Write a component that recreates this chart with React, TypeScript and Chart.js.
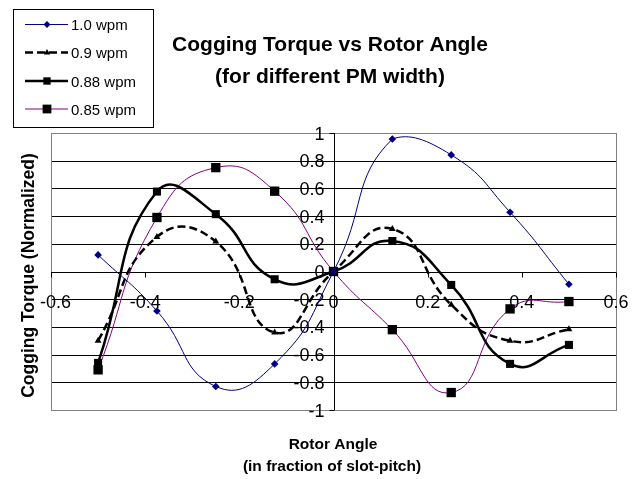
import React, { useEffect, useRef } from 'react';
import { Chart, registerables } from 'chart.js';

Chart.register(...registerables);

// ---- data ----
const rotorAngle = [-0.5, -0.375, -0.25, -0.125, 0, 0.125, 0.25, 0.375, 0.5];
const wpm100 = [0.12, -0.285, -0.83, -0.667, 0, 0.957, 0.842, 0.428, -0.092];
const wpm090 = [-0.5, 0.25, 0.216, -0.44, 0, 0.307, -0.24, -0.5, -0.417];
const wpm088 = [-0.66, 0.577, 0.414, -0.056, 0, 0.22, -0.097, -0.667, -0.53];
const wpm085 = [-0.71, 0.39, 0.75, 0.58, 0, -0.42, -0.874, -0.27, -0.217];
const seriesLabels = ['1.0 wpm', '0.9 wpm', '0.88 wpm', '0.85 wpm'];
const xTicks = [-0.6, -0.4, -0.2, 0, 0.2, 0.4, 0.6];
const yTicks = [1, 0.8, 0.6, 0.4, 0.2, 0, -0.2, -0.4, -0.6, -0.8, -1];
const titleLines = ['Cogging Torque vs Rotor Angle', '(for different PM width)'];
const xTitleLines = ['Rotor Angle', '(in fraction of slot-pitch)'];
const yTitle = 'Cogging Torque (Normalized)';

const FONT = '"Liberation Sans", Arial, sans-serif';

const pts = (ys: number[]) => rotorAngle.map((x, i) => ({ x, y: ys[i] }));

const fmt = (v: number) => {
  const r = Math.round(v * 10) / 10;
  return r === 0 ? '0' : String(r);
};

function drawMarker(ctx: CanvasRenderingContext2D, style: string, x: number, y: number, r: number, color: string) {
  ctx.save();
  ctx.fillStyle = color;
  ctx.beginPath();
  if (style === 'rectRot') {
    ctx.moveTo(x, y - r);
    ctx.lineTo(x + r, y);
    ctx.lineTo(x, y + r);
    ctx.lineTo(x - r, y);
  } else if (style === 'triangle') {
    ctx.moveTo(x, y - r);
    ctx.lineTo(x + r * 0.9, y + r * 0.6);
    ctx.lineTo(x - r * 0.9, y + r * 0.6);
  } else {
    const s = r * Math.SQRT1_2;
    ctx.rect(x - s, y - s, 2 * s, 2 * s);
  }
  ctx.closePath();
  ctx.fill();
  ctx.restore();
}

const decorPlugin = {
  id: 'decor',
  beforeDatasetsDraw(chart: any) {
    const { ctx, chartArea: a, scales } = chart;
    const xs = scales.x;
    const ys = scales.y;
    const x0 = Math.round(xs.getPixelForValue(0)) + 0.5;
    const y0 = Math.round(ys.getPixelForValue(0)) + 0.5;
    ctx.save();
    // gridlines
    ctx.lineWidth = 1;
    ctx.strokeStyle = '#000';
    yTicks.forEach((v) => {
      if (v === 1 || v === -1) return;
      const py = Math.round(ys.getPixelForValue(v)) + 0.5;
      ctx.beginPath();
      ctx.moveTo(a.left, py);
      ctx.lineTo(a.right, py);
      ctx.stroke();
    });
    // plot border
    ctx.strokeStyle = '#808080';
    ctx.strokeRect(Math.round(a.left) + 0.5, Math.round(a.top) + 0.5, Math.round(a.right - a.left), Math.round(a.bottom - a.top));
    // axes
    ctx.strokeStyle = '#000';
    ctx.beginPath();
    ctx.moveTo(x0, a.top);
    ctx.lineTo(x0, a.bottom);
    ctx.moveTo(a.left, y0);
    ctx.lineTo(a.right, y0);
    ctx.stroke();
    // tick marks
    ctx.beginPath();
    xTicks.forEach((v) => {
      const px = Math.round(xs.getPixelForValue(v)) + 0.5;
      ctx.moveTo(px, y0);
      ctx.lineTo(px, y0 + 5);
    });
    yTicks.forEach((v) => {
      const py = Math.round(ys.getPixelForValue(v)) + 0.5;
      ctx.moveTo(x0 - 5, py);
      ctx.lineTo(x0, py);
    });
    ctx.stroke();
    // tick labels
    ctx.fillStyle = '#000';
    ctx.font = `18px ${FONT}`;
    ctx.textBaseline = 'alphabetic';
    ctx.textAlign = 'right';
    yTicks.forEach((v) => {
      const py = ys.getPixelForValue(v);
      ctx.fillText(fmt(v), x0 - 10, py + 6.5);
    });
    ctx.textAlign = 'left';
    xTicks.forEach((v) => {
      const px = xs.getPixelForValue(v);
      const t = fmt(v);
      const w = ctx.measureText(t).width;
      let left = px - w / 2;
      if (left < 40) left = 40;
      ctx.fillText(t, left, y0 + 35);
    });
    ctx.restore();
  },
  afterDatasetsDraw(chart: any) {
    const { ctx, chartArea: a } = chart;
    ctx.save();
    ctx.fillStyle = '#000';
    // title
    ctx.textAlign = 'center';
    ctx.textBaseline = 'alphabetic';
    ctx.font = `bold 21px ${FONT}`;
    ctx.fillText(titleLines[0], 330, 51);
    ctx.fillText(titleLines[1], 330, 83);
    // x title
    ctx.font = `bold 15.5px ${FONT}`;
    ctx.fillText(xTitleLines[0], 333, 449);
    ctx.fillText(xTitleLines[1], 332, 471);
    // y title
    ctx.save();
    ctx.translate(34, (a.top + a.bottom) / 2 + 4);
    ctx.rotate(-Math.PI / 2);
    ctx.font = `bold 17.5px ${FONT}`;
    ctx.fillText(yTitle, 0, 0);
    ctx.restore();
    // legend
    ctx.fillStyle = '#fff';
    ctx.fillRect(13, 9, 140, 118);
    ctx.strokeStyle = '#000';
    ctx.lineWidth = 1;
    ctx.strokeRect(13.5, 9.5, 140, 118);
    const rowY = [24.5, 52.5, 81, 109];
    chart.data.datasets.forEach((ds: any, i: number) => {
      const y = rowY[i];
      ctx.save();
      ctx.strokeStyle = ds.borderColor;
      ctx.lineWidth = ds.borderWidth;
      ctx.setLineDash(ds.borderDash || []);
      ctx.beginPath();
      ctx.moveTo(25, y);
      ctx.lineTo(68, y);
      ctx.stroke();
      ctx.restore();
      drawMarker(ctx, ds.pointStyle, 47, y, ds.legendRadius, ds.pointBackgroundColor);
      ctx.fillStyle = '#000';
      ctx.font = `15px ${FONT}`;
      ctx.textAlign = 'left';
      ctx.fillText(seriesLabels[i], 71, y + 5.5);
    });
    ctx.restore();
  },
};

export default function App() {
  const ref = useRef<HTMLCanvasElement>(null);
  useEffect(() => {
    document.body.style.margin = '0';
    const canvas = ref.current;
    if (!canvas) return;
    const chart = new Chart(canvas, {
      type: 'scatter',
      data: {
        datasets: [
          {
            label: seriesLabels[0],
            data: pts(wpm100),
            showLine: true,
            borderColor: '#000080',
            borderWidth: 1,
            pointStyle: 'rectRot',
            pointRadius: 3.8,
            pointBackgroundColor: '#000080',
            pointBorderColor: '#000080',
            pointBorderWidth: 0,
            tension: 0.5,
            legendRadius: 3.5,
          } as any,
          {
            label: seriesLabels[1],
            data: pts(wpm090),
            showLine: true,
            borderColor: '#000',
            borderWidth: 2.5,
            borderDash: [8, 4],
            pointStyle: 'triangle',
            pointRadius: 4,
            pointBackgroundColor: '#000',
            pointBorderColor: '#000',
            pointBorderWidth: 0,
            tension: 0.5,
            legendRadius: 3.5,
          } as any,
          {
            label: seriesLabels[2],
            data: pts(wpm088),
            showLine: true,
            borderColor: '#000',
            borderWidth: 2.5,
            pointStyle: 'rect',
            pointRadius: 5.7,
            pointBackgroundColor: '#000',
            pointBorderColor: '#000',
            pointBorderWidth: 0,
            tension: 0.5,
            legendRadius: 5.2,
          } as any,
          {
            label: seriesLabels[3],
            data: pts(wpm085),
            showLine: true,
            borderColor: '#800080',
            borderWidth: 1,
            pointStyle: 'rect',
            pointRadius: 6.6,
            pointBackgroundColor: '#000',
            pointBorderColor: '#000',
            pointBorderWidth: 0,
            tension: 0.5,
            legendRadius: 6.2,
          } as any,
        ],
      },
      options: {
        animation: false,
        responsive: false,
        devicePixelRatio: 1,
        layout: { padding: { left: 51, right: 25, top: 133, bottom: 69 } },
        scales: {
          x: { type: 'linear', min: -0.6, max: 0.6, display: false },
          y: { type: 'linear', min: -1, max: 1, display: false },
        },
        plugins: {
          legend: { display: false },
          title: { display: false },
          tooltip: { enabled: false },
        },
      },
      plugins: [decorPlugin],
    });
    return () => chart.destroy();
  }, []);
  return (
    <div style={{ width: 641, height: 479, background: '#fff' }}>
      <canvas ref={ref} width={641} height={479} style={{ display: 'block' }} />
    </div>
  );
}
